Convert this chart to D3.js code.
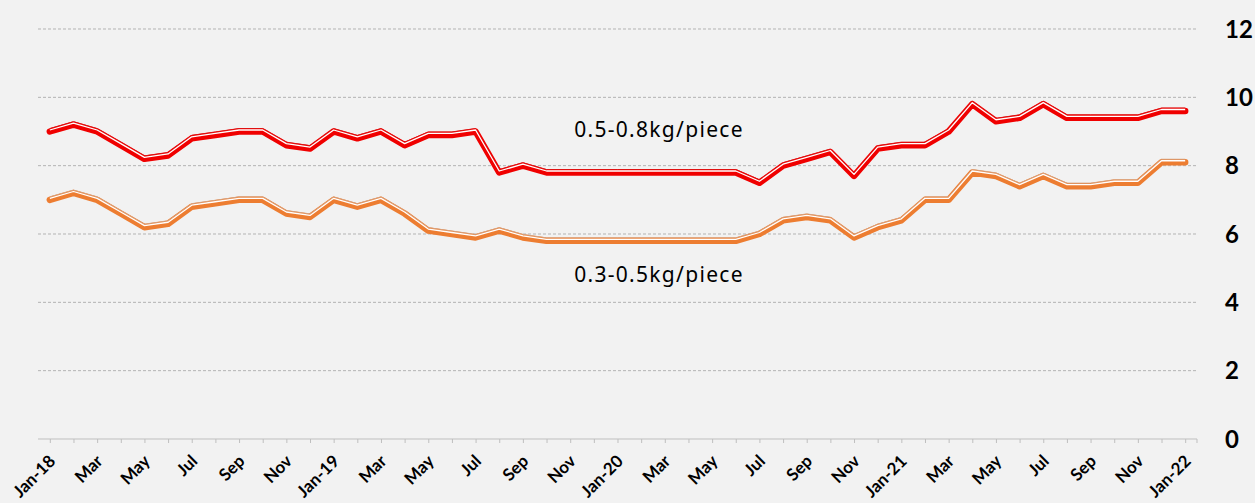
<!DOCTYPE html>
<html>
<head>
<meta charset="utf-8">
<script src="https://cdn.jsdelivr.net/npm/d3@7"></script>
<style>
  body { margin: 0; background: #f2f2f2; }
  svg { display: block; }
</style>
</head>
<body>
<div id="chart"></div>
<script>
// monthly, Jan-18 .. Jan-22
var months = ["Jan-18","Feb","Mar","Apr","May","Jun","Jul","Aug","Sep","Oct","Nov","Dec",
  "Jan-19","Feb","Mar","Apr","May","Jun","Jul","Aug","Sep","Oct","Nov","Dec",
  "Jan-20","Feb","Mar","Apr","May","Jun","Jul","Aug","Sep","Oct","Nov","Dec",
  "Jan-21","Feb","Mar","Apr","May","Jun","Jul","Aug","Sep","Oct","Nov","Dec",
  "Jan-22"];

var heavy = [9.0,9.2,9.0,8.6,8.2,8.3,8.8,8.9,9.0,9.0,8.6,8.5,
  9.0,8.8,9.0,8.6,8.9,8.9,9.0,7.8,8.0,7.8,7.8,7.8,
  7.8,7.8,7.8,7.8,7.8,7.8,7.5,8.0,8.2,8.4,7.7,8.5,
  8.6,8.6,9.0,9.8,9.3,9.4,9.8,9.4,9.4,9.4,9.4,9.6,
  9.6];

var light = [7.0,7.2,7.0,6.6,6.2,6.3,6.8,6.9,7.0,7.0,6.6,6.5,
  7.0,6.8,7.0,6.6,6.1,6.0,5.9,6.1,5.9,5.8,5.8,5.8,
  5.8,5.8,5.8,5.8,5.8,5.8,6.0,6.4,6.5,6.4,5.9,6.2,
  6.4,7.0,7.0,7.8,7.7,7.4,7.7,7.4,7.4,7.5,7.5,8.1,
  8.1];

var yTicks = [0,2,4,6,8,10,12];

var width = 1255, height = 503;
var plotLeft = 38, plotRight = 1197, plotTop = 29, plotBottom = 439;

var svg = d3.select("#chart").append("svg")
    .attr("width", width)
    .attr("height", height);

svg.append("rect").attr("width", width).attr("height", height).attr("fill", "#f2f2f2");

var x = d3.scalePoint()
    .domain(d3.range(months.length))
    .range([plotLeft, plotRight])
    .padding(0.5);

var y = d3.scaleLinear()
    .domain([0, 12])
    .range([plotBottom, plotTop]);

// gridlines
svg.append("g")
  .selectAll("line")
  .data(yTicks.filter(function(d) { return d > 0; }))
  .enter().append("line")
    .attr("x1", plotLeft).attr("x2", plotRight)
    .attr("y1", function(d) { return y(d); })
    .attr("y2", function(d) { return y(d); })
    .attr("stroke", "#b3b3b3")
    .attr("stroke-width", 1)
    .attr("stroke-dasharray", "3,2");

// y labels on the right
svg.append("g")
  .selectAll("text")
  .data(yTicks)
  .enter().append("text")
    .attr("x", 1225)
    .attr("y", function(d) { return y(d); })
    .attr("dy", "0.36em")
    .style("font-family", "Lato, 'Open Sans', sans-serif")
    .style("font-weight", "bold")
    .style("font-size", "24px")
    .attr("fill", "#000")
    .text(function(d) { return d; });

// x axis
var xAxis = svg.append("g")
    .attr("transform", "translate(0," + plotBottom + ")")
    .call(d3.axisBottom(x)
      .tickSize(4)
      .tickSizeOuter(0)
      .tickFormat(function(i) { return i % 2 === 0 ? months[i] : ""; }));

xAxis.select(".domain").attr("stroke", "#bfbfbf").attr("d", "M" + plotLeft + ",0H" + plotRight + "V4");
xAxis.selectAll(".tick line").attr("stroke", "#bfbfbf");
xAxis.selectAll(".tick text")
    .attr("transform", "translate(2,19) rotate(-45)")
    .attr("text-anchor", "end")
    .attr("dy", "0.35em")
    .attr("y", 0)
    .attr("x", 0)
    .style("font-family", "Lato, 'Open Sans', sans-serif")
    .style("font-weight", "bold")
    .style("font-size", "17px")
    .attr("fill", "#000");

var line = d3.line()
    .x(function(d, i) { return x(i); })
    .y(function(d) { return y(d); });

function drawSeries(data, color, edge) {
  var g = svg.append("g");
  g.append("path")
    .datum(data)
    .attr("d", line)
    .attr("fill", "none")
    .attr("stroke", color)
    .attr("stroke-width", 6.5)
    .attr("stroke-linejoin", "round")
    .attr("stroke-linecap", "round");
  g.append("path")
    .datum(data)
    .attr("d", line)
    .attr("transform", "translate(0,-3)")
    .attr("fill", "none")
    .attr("stroke", edge)
    .attr("stroke-width", 1)
    .attr("stroke-linejoin", "round");
  g.append("path")
    .datum(data)
    .attr("d", line)
    .attr("transform", "translate(0,-1.5)")
    .attr("fill", "none")
    .attr("stroke", "#ffffff")
    .attr("stroke-width", 1.3)
    .attr("stroke-linejoin", "round");
}

drawSeries(light, "#ed7d31", "#d9a07a");
drawSeries(heavy, "#f00000", "#e01010");

// series labels
svg.append("text")
    .attr("x", 659).attr("y", 137)
    .attr("text-anchor", "middle")
    .style("font-family", "'Noto Sans', sans-serif")
    .style("font-size", "21px")
    .style("letter-spacing", "1.3px")
    .attr("fill", "#000")
    .text("0.5-0.8kg/piece");

svg.append("text")
    .attr("x", 659).attr("y", 282)
    .attr("text-anchor", "middle")
    .style("font-family", "'Noto Sans', sans-serif")
    .style("font-size", "21px")
    .style("letter-spacing", "1.3px")
    .attr("fill", "#000")
    .text("0.3-0.5kg/piece");
</script>
</body>
</html>
